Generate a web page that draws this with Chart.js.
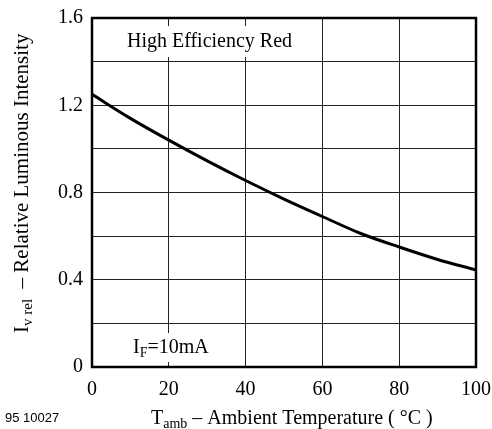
<!DOCTYPE html>
<html>
<head>
<meta charset="utf-8">
<script src="https://cdn.jsdelivr.net/npm/chart.js@4/dist/chart.umd.min.js"></script>
<style>
html,body{margin:0;padding:0;background:#fff;}
#wrap{position:relative;width:492px;height:429px;}
</style>
</head>
<body>
<div id="wrap"><canvas id="c" width="492" height="429"></canvas></div>
<script>
// ---- data ----
const temperatures = [0, 10, 20, 30, 40, 50, 60, 70, 80, 90, 100];
const relIntensity = [1.25, 1.14, 1.04, 0.945, 0.855, 0.77, 0.69, 0.612, 0.55, 0.493, 0.445];
const yTickLabels = ['0', '0.4', '0.8', '1.2', '1.6'];
const xTickLabels = ['0', '20', '40', '60', '80', '100'];
const curveName = 'High Efficiency Red';
const conditionMain = 'I', conditionSub = 'F', conditionRest = '=10mA';
const yTitleMain = 'I', yTitleSub = 'v rel', yTitleRest = '  \u2013 Relative Luminous Intensity';
const xTitleMain = 'T', xTitleSub = 'amb', xTitleRest = ' \u2013 Ambient Temperature ( \u00B0C )';
const figureId = '95 10027';

const SERIF = '"Liberation Serif","Times New Roman",serif';
const SANS = '"Liberation Sans",Arial,sans-serif';

const points = temperatures.map((t, i) => ({x: t, y: relIntensity[i]}));

function drawSubText(ctx, x, y, main, sub, rest, size, subSize, subDrop) {
  ctx.font = size + 'px ' + SERIF;
  ctx.fillText(main, x, y);
  x += ctx.measureText(main).width;
  ctx.font = subSize + 'px ' + SERIF;
  ctx.fillText(sub, x, y + subDrop);
  x += ctx.measureText(sub).width;
  ctx.font = size + 'px ' + SERIF;
  ctx.fillText(rest, x, y);
  return x + ctx.measureText(rest).width;
}
function subTextWidth(ctx, main, sub, rest, size, subSize) {
  ctx.font = size + 'px ' + SERIF;
  let w = ctx.measureText(main).width + ctx.measureText(rest).width;
  ctx.font = subSize + 'px ' + SERIF;
  return w + ctx.measureText(sub).width;
}

const decor = {
  id: 'decor',
  beforeDatasetsDraw(chart) {
    const ctx = chart.ctx, xs = chart.scales.x, ys = chart.scales.y;
    ctx.save();
    ctx.fillStyle = '#000';
    ctx.textBaseline = 'alphabetic';
    // curve name box
    ctx.font = '20px ' + SERIF;
    let x0 = xs.getPixelForValue(9.1), y0 = ys.getPixelForValue(1.467);
    let w = ctx.measureText(curveName).width;
    ctx.fillStyle = '#fff';
    ctx.fillRect(x0 - 6, y0 - 21, w + 12, 31);
    ctx.fillStyle = '#000';
    ctx.fillText(curveName, x0, y0);
    // condition box
    x0 = xs.getPixelForValue(10.7); y0 = ys.getPixelForValue(0.064);
    w = subTextWidth(ctx, conditionMain, conditionSub, conditionRest, 20, 14);
    ctx.fillStyle = '#fff';
    ctx.fillRect(x0 - 6, y0 - 20, w + 12, 29);
    ctx.fillStyle = '#000';
    drawSubText(ctx, x0, y0, conditionMain, conditionSub, conditionRest, 20, 14, 4);
    ctx.restore();
  },
  afterDraw(chart) {
    const ctx = chart.ctx, a = chart.chartArea;
    ctx.save();
    ctx.strokeStyle = '#000';
    ctx.lineWidth = 2.5;
    ctx.strokeRect(a.left, a.top, a.right - a.left, a.bottom - a.top);
    ctx.fillStyle = '#000';
    ctx.textBaseline = 'alphabetic';
    // x title
    drawSubText(ctx, 151, 424, xTitleMain, xTitleSub, xTitleRest, 20, 14, 4);
    // y title (rotated)
    ctx.translate(28, 333);
    ctx.rotate(-Math.PI / 2);
    drawSubText(ctx, 0, 0, yTitleMain, yTitleSub, yTitleRest, 21, 15, 4);
    ctx.restore();
    // figure id
    ctx.save();
    ctx.fillStyle = '#000';
    ctx.font = '13px ' + SANS;
    ctx.textBaseline = 'alphabetic';
    ctx.fillText(figureId, 5, 422);
    ctx.restore();
  }
};

new Chart(document.getElementById('c'), {
  type: 'line',
  data: {
    datasets: [{
      label: curveName,
      data: points,
      borderColor: '#000',
      borderWidth: 3,
      pointRadius: 0,
      fill: false,
      cubicInterpolationMode: 'monotone'
    }]
  },
  options: {
    responsive: false,
    animation: false,
    devicePixelRatio: 1,
    layout: {padding: {left: 0, right: 16, top: 18, bottom: 0}},
    plugins: {legend: {display: false}, tooltip: {enabled: false}},
    scales: {
      x: {
        type: 'linear', min: 0, max: 100,
        afterFit(s) { s.height = 62; s.paddingRight = 0; s.paddingLeft = 0; },
        ticks: {
          stepSize: 20, padding: 11, color: '#000', maxRotation: 0,
          font: {family: SERIF, size: 20},
          callback: (v) => xTickLabels.includes(String(v)) ? String(v) : ''
        },
        grid: {color: '#222', lineWidth: 1, drawTicks: false},
        border: {display: false}
      },
      y: {
        type: 'linear', min: 0, max: 1.6,
        afterFit(s) { s.width = 92; s.paddingTop = 0; s.paddingBottom = 0; },
        ticks: {
          stepSize: 0.2, padding: 9, color: '#000',
          font: {family: SERIF, size: 20},
          callback: (v) => {
            const s = String(Math.round(v * 10) / 10);
            return yTickLabels.includes(s) ? s : '';
          }
        },
        grid: {color: '#222', lineWidth: 1, drawTicks: false},
        border: {display: false}
      }
    }
  },
  plugins: [decor]
});
</script>
</body>
</html>
